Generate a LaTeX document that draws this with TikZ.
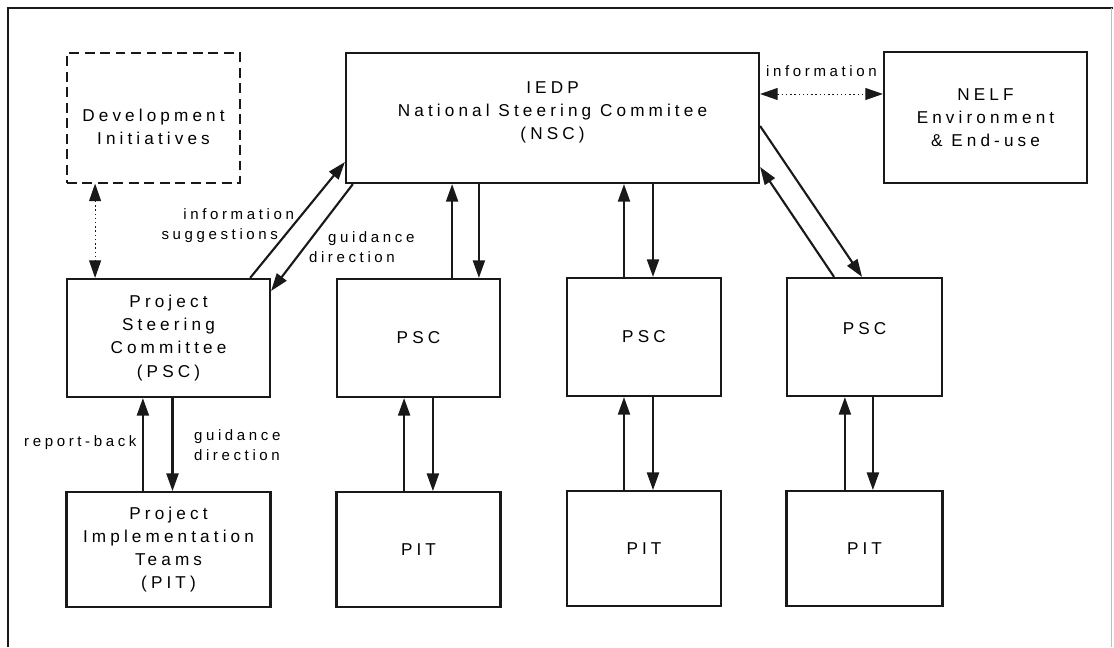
\documentclass[tikz,border=0pt]{standalone}
\usepackage{fontspec}
\setmainfont{Liberation Sans}[LetterSpace=24]
\usetikzlibrary{arrows.meta}

\begin{document}
\begin{tikzpicture}[x=0.025cm, y=-0.025cm, line width=1.5pt, color={black!90},
  box/.style={draw, rectangle, align=center, inner sep=0pt, text=black, font=\fontsize{12.2}{16.4}\selectfont},
  lab/.style={inner sep=0pt, text=black, font=\fontsize{10.7}{14.2}\selectfont},
  arr/.style={-{Triangle[length=4.4mm,width=3mm]}},
  info/.style={{Triangle[length=4.4mm,width=3mm]}-{Triangle[length=4.4mm,width=3mm]}, line width=0.7pt, dash pattern=on 1pt off 2pt}]
  \useasboundingbox (0,0) rectangle (1114,647);
  \draw (8,647) -- (8,8) -- (1113,8);
  \draw[line width=0.6pt, black!25] (1111,8) -- (1111,647);

  \node[box, dashed, line width=0.8pt, dash pattern=on 7pt off 4pt, minimum width=4.325cm, minimum height=3.25cm] (dev) at (153.5,118) {\rule{0pt}{22pt}Development\\Initiatives};
  \node[box, minimum width=10.325cm, minimum height=3.25cm] (nsc) at (552.5,118) {IEDP\\National Steering Commitee\\(NSC)\\[-6pt]};
  \node[box, minimum width=5.075cm, minimum height=3.275cm] (nelf) at (985.5,117.5) {NELF\\Environment\\\& End-use};

  \node[box, minimum width=5.075cm, minimum height=2.95cm] (psc1) at (168.5,338) {Project\\Steering\\Committee\\(PSC)};
  \node[box, minimum width=4.075cm, minimum height=2.95cm] (psc2) at (418.5,338) {PSC};
  \node[box, minimum width=3.85cm, minimum height=2.95cm] (psc3) at (644,337) {PSC};
  \node[box, minimum width=3.875cm, minimum height=2.95cm] (psc4) at (864.5,337) {PSC\\[-5pt]};

  \node[box, minimum width=5.1cm, minimum height=2.875cm, below of=psc1, node distance=5.29cm] (pit1) {Project\\Implementation\\Teams\\(PIT)};
  \node[box, minimum width=4.1cm, minimum height=2.875cm, below of=psc2, node distance=5.29cm] (pit2) {PIT};
  \node[box, minimum width=3.85cm, minimum height=2.875cm, below of=psc3, node distance=5.29cm] (pit3) {PIT};
  \node[box, minimum width=3.9cm, minimum height=2.875cm, below of=psc4, node distance=5.29cm] (pit4) {PIT};

  \draw[info] ([xshift=-1.46cm]dev.south) -- ([xshift=-1.46cm]dev.south |- psc1.north);
  \draw[info] ([yshift=0.6cm]nsc.east) -- ([yshift=0.6cm]nsc.east -| nelf.west)
    node[lab, midway, above=12pt] {information};

  \draw[arr] ([xshift=2.04cm]psc1.north) -- ([yshift=-1.1cm]nsc.west);
  \draw[arr] ([xshift=0.2cm]nsc.south west) -- ([yshift=-0.325cm]psc1.north east);
  \node[lab, align=right, anchor=east] (infosug) at (295,226) {information\\suggestions\hspace*{0.4cm}};
  \node[lab, align=left, anchor=west] (guidir) at (308,247) {\hspace*{0.475cm}guidance\\direction};

  \draw[arr] ([xshift=0.84cm]psc2.north) -- ([xshift=0.84cm]psc2.north |- nsc.south);
  \draw[arr] ([xshift=1.51cm]psc2.north |- nsc.south) -- ([xshift=1.51cm]psc2.north);
  \draw[arr] ([xshift=-0.5cm]psc3.north) -- ([xshift=-0.5cm]psc3.north |- nsc.south);
  \draw[arr] ([xshift=0.225cm]psc3.north |- nsc.south) -- ([xshift=0.225cm]psc3.north);
  \draw[arr] ([xshift=-0.76cm]psc4.north) -- ([yshift=-1.225cm]nsc.east);
  \draw[arr] ([yshift=-0.2cm]nsc.east) -- ([xshift=-0.06cm]psc4.north);

  \draw[arr] ([xshift=-0.64cm]psc1.south |- pit1.north) -- ([xshift=-0.64cm]psc1.south);
  \draw[arr] ([xshift=0.1cm]psc1.south) -- ([xshift=0.1cm]psc1.south |- pit1.north);
  \node[lab, anchor=east] (report) at (137.5,443) {report-back};
  \node[lab, align=left, anchor=west] (guidir1) at (193,445) {guidance\\direction};

  \draw[arr] ([xshift=-0.36cm]psc2.south |- pit2.north) -- ([xshift=-0.36cm]psc2.south);
  \draw[arr] ([xshift=0.36cm]psc2.south) -- ([xshift=0.36cm]psc2.south |- pit2.north);
  \draw[arr] ([xshift=-0.5cm]psc3.south |- pit3.north) -- ([xshift=-0.5cm]psc3.south);
  \draw[arr] ([xshift=0.225cm]psc3.south) -- ([xshift=0.225cm]psc3.south |- pit3.north);
  \draw[arr] ([xshift=-0.49cm]psc4.south |- pit4.north) -- ([xshift=-0.49cm]psc4.south);
  \draw[arr] ([xshift=0.21cm]psc4.south) -- ([xshift=0.21cm]psc4.south |- pit4.north);
\end{tikzpicture}
\end{document}
